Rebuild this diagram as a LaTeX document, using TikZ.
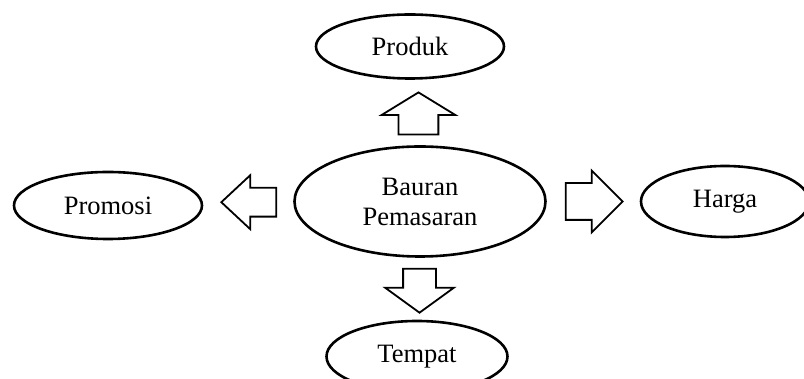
\documentclass[tikz,border=0pt]{standalone}
\usepackage{fontspec}
\setmainfont{Liberation Serif}
\usetikzlibrary{shapes.geometric,shapes.arrows,calc}
\begin{document}
\begin{tikzpicture}[node distance={155pt}, main/.style ={draw, ellipse, line width=2.6pt, inner sep=0pt, font=\fontsize{26.5}{30}\selectfont}, blockarr/.style={draw, single arrow, line width=1.8pt, fill=white, inner xsep=0pt, anchor=tail}]
        \useasboundingbox (-420pt,-177.5pt) rectangle (384pt,201.5pt);
        \node[main, minimum width=251pt, minimum height=110pt, align=center] (bp) at (0,0) {Bauran\\Pemasaran};
        \node[main, minimum width=188pt, minimum height=64pt] (produk) [above of=bp, xshift=-10pt] {Produk};
        \node[main, minimum width=181pt, minimum height=71pt] (tempat) [below of=bp, xshift=-3pt] {Tempat};
        \node[main, minimum width=188pt, minimum height=67pt] (promosi) [left of=bp, node distance=312pt, yshift=-4pt] {Promosi};
        \node[main, minimum width=168pt, minimum height=71pt] (harga) [right of=bp, node distance=305pt] {Harga};
        \node[blockarr, minimum height=42pt, inner ysep=19pt, single arrow head extend=17pt, single arrow tip angle=117, rotate=90] (upArr) at ($(bp.north)!10pt!(produk.south)$) {};
        \node[blockarr, minimum height=55pt, inner ysep=13.5pt, single arrow head extend=12.5pt, single arrow tip angle=86, rotate=180] (leftArr) at ($(bp.west)!16pt!(promosi.east)$) {};
        \node[blockarr, minimum height=57pt, inner ysep=17.5pt, single arrow head extend=12.5pt, single arrow tip angle=90] (rightArr) at ($(bp.east)!18pt!(harga.west)$) {};
        \node[blockarr, minimum height=44pt, inner ysep=15.5pt, single arrow head extend=18pt, single arrow tip angle=108, rotate=-90] (downArr) at ($(bp.south)!10pt!(tempat.north)$) {};
    \end{tikzpicture}
\end{document}
